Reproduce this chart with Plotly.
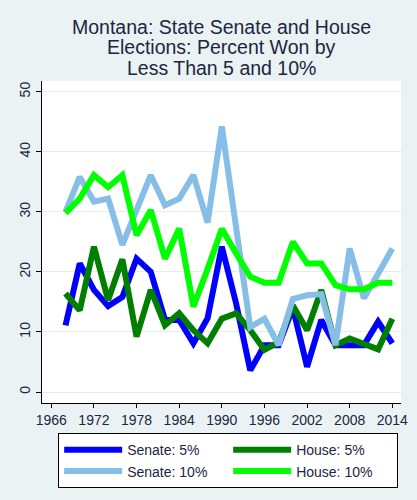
import plotly.graph_objects as go

YEARS = [1968, 1970, 1972, 1974, 1976, 1978, 1980, 1982, 1984, 1986, 1988, 1990,
         1992, 1994, 1996, 1998, 2000, 2002, 2004, 2006, 2008, 2010, 2012, 2014]

senate_5 = [11.1, 21.4, 17.0, 14.3, 15.8, 22.2, 20.0, 12.0, 12.0, 8.1, 12.3, 24.2,
            14.8, 3.6, 7.8, 7.8, 14.0, 4.2, 12.0, 7.8, 7.8, 7.8, 11.7, 8.1]
senate_10 = [30.0, 35.8, 31.7, 32.2, 24.5, 30.0, 36.1, 31.1, 32.2, 36.1, 28.2, 44.2,
             27.5, 10.8, 12.2, 7.8, 15.5, 16.1, 16.3, 7.8, 23.9, 15.6, 19.7, 23.9]
house_5 = [16.4, 13.6, 24.2, 15.3, 22.1, 9.2, 17.0, 11.1, 13.1, 10.3, 8.1, 12.2,
           13.1, 10.3, 7.0, 8.3, 14.4, 10.3, 17.0, 7.8, 8.9, 8.1, 7.1, 12.2]
house_10 = [29.8, 32.2, 36.1, 34.1, 36.1, 26.1, 30.3, 22.2, 27.2, 14.2, 20.5, 27.2,
            23.1, 19.2, 18.2, 18.2, 25.0, 21.4, 21.4, 17.8, 17.1, 17.1, 18.2, 18.2]

X_TICKS = [1966, 1972, 1978, 1984, 1990, 1996, 2002, 2008, 2014]
Y_TICKS = [0, 10, 20, 30, 40, 50]

TITLE_LINES = ["Montana: State Senate and House",
               "Elections: Percent Won by",
               "Less Than 5 and 10%"]

BG = "#EAF2F3"
TEXT = "#1C2641"
FONT = "Arial, Liberation Sans, sans-serif"

# drawing order = stacking order in the original, and also the legend order
series = [
    ("Senate: 5%", senate_5, "#0000FF"),
    ("House: 5%", house_5, "#007F00"),
    ("Senate: 10%", senate_10, "#87BEE8"),
    ("House: 10%", house_10, "#00FF00"),
]

fig = go.Figure()
for name, vals, color in series:
    fig.add_trace(go.Scatter(x=YEARS, y=vals, mode="lines", name=name,
                             line=dict(color=color, width=6)))

# title drawn as three tight lines like the original
for i, line in enumerate(TITLE_LINES):
    fig.add_annotation(text=line, xref="paper", yref="paper", x=0.5,
                       y=1 + (54 - i * 20.5) / 321.7, yanchor="middle",
                       showarrow=False, font=dict(size=19.5, color=TEXT, family=FONT))

fig.update_layout(
    width=417, height=500,
    margin=dict(l=42, r=16, t=81, b=97),
    paper_bgcolor=BG, plot_bgcolor="white",
    font=dict(family=FONT, size=14, color=TEXT),
    legend=dict(orientation="h", x=0.045, y=-0.094, xanchor="left", yanchor="top",
                bgcolor="white", bordercolor="black", borderwidth=1,
                entrywidth=96, entrywidthmode="pixels", itemwidth=58,
                font=dict(size=14, color=TEXT)),
    showlegend=True,
)
fig.update_xaxes(range=[1964.69, 2015.22], tickvals=X_TICKS, showgrid=False,
                 showline=True, linecolor="black", linewidth=1, automargin=False,
                 ticks="outside", ticklen=4, tickcolor="black",
                 tickfont=dict(size=14, color=TEXT), zeroline=False)
fig.update_yaxes(range=[-1.83, 51.78], tickvals=Y_TICKS, showgrid=True,
                 gridcolor="#E6EDEF", gridwidth=1, automargin=False,
                 showline=True, linecolor="black", linewidth=1,
                 ticks="outside", ticklen=5, tickcolor="black", tickangle=-90,
                 tickfont=dict(size=14, color=TEXT), zeroline=False)

# page has a default 8px body margin; drop it so the figure fills the window
fig.write_html("out.html", config={"displayModeBar": False},
               post_script="document.body.style.margin = '0';")
